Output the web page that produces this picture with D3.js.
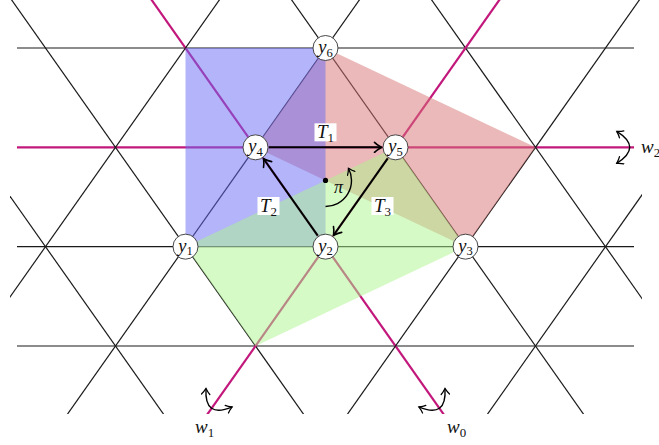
<!DOCTYPE html>
<html lang="en">
<head>
<meta charset="UTF-8">
<title>Alcove walk</title>
<style>
    body { margin: 0; background: #fff; }
    svg { display: block; }
    text { font-family: "Liberation Serif", "DejaVu Serif", serif; fill: #111; }
</style>
<script src="https://d3js.org/d3.v7.min.js"></script>
</head>
<body>
<div id="chart"></div>
<script>
    // lattice coordinates: u = half-edge steps, v = rows (top row is 0)
    const rows = [0, 1, 2, 3];
    const descLines = [-2, 0, 2, 4, 6];   // u - v = c
    const ascLines = [2, 4, 6, 8, 10];    // u + v = s
    const mirrorRow = [1];
    const mirrorDesc = [2];
    const mirrorAsc = [6];

    const vertexNames = ["1", "2", "3", "4", "5", "6"];
    const vertexU = [2, 4, 6, 3, 5, 4];
    const vertexV = [2, 2, 2, 1, 1, 0];

    const piPoint = [4, 4 / 3];
    const polyRed = [[3, 1], [4, 0], [7, 1], [6, 2], [4, 4 / 3]];
    const polyBlue = [[2, 0], [4, 0], [4, 2], [2, 2]];
    const polyGreen = [[2, 2], [4, 4 / 3], [5, 1], [6, 2], [3, 3]];

    // translations: from vertex, to vertex, subscript
    const moves = [[3, 4, "1"], [1, 3, "2"], [4, 1, "3"]];

    // reflections: subscript, point on mirror, outward direction
    const reflections = [
        { sub: "0", at: [5.52, 3.52], dir: [1, 1] },
        { sub: "1", at: [2.48, 3.52], dir: [-1, 1] },
        { sub: "2", at: [8.16, 1], dir: [1, 0] }
    ];

    const width = 659, height = 445;
    const x = d3.scaleLinear().domain([0, 8]).range([45.5, 605.5]);
    const y = d3.scaleLinear().domain([0, 3]).range([48, 346]);
    const pt = p => [x(p[0]), y(p[1])];

    const svg = d3.select("#chart").append("svg")
        .attr("width", width).attr("height", height);

    const defs = svg.append("defs");
    defs.append("clipPath").attr("id", "clip")
        .append("rect").attr("x", 10).attr("y", -20).attr("width", 632).attr("height", 434);

    function arrowMarker(id, size, sw) {
        defs.append("marker").attr("id", id)
            .attr("viewBox", "-10 -6 12 12")
            .attr("refX", 0).attr("refY", 0)
            .attr("markerWidth", size).attr("markerHeight", size)
            .attr("markerUnits", "userSpaceOnUse")
            .attr("orient", "auto-start-reverse")
            .append("path")
            .attr("d", "M-7,-5 C-4,-2 -1,-0.6 0,0 C-1,0.6 -4,2 -7,5")
            .attr("fill", "none").attr("stroke", "#000")
            .attr("stroke-width", sw).attr("stroke-linecap", "round");
    }
    arrowMarker("to", 12, 1.6);
    arrowMarker("toSmall", 10, 1.5);

    const magenta = "#c2187c";
    const lineCol = "#1a1a1a";

    // horizontal lines
    svg.append("g").selectAll("line").data(rows).join("line")
        .attr("x1", 17).attr("x2", 634)
        .attr("y1", d => y(d)).attr("y2", d => y(d))
        .attr("stroke", d => mirrorRow.includes(d) ? magenta : lineCol)
        .attr("stroke-width", d => mirrorRow.includes(d) ? 2.2 : 1.2);

    // diagonal lines
    const diag = svg.append("g").attr("clip-path", "url(#clip)");
    diag.selectAll("line.desc").data(descLines).join("line").attr("class", "desc")
        .attr("x1", c => x(c - 1)).attr("y1", y(-1))
        .attr("x2", c => x(c + 4)).attr("y2", y(4))
        .attr("stroke", c => mirrorDesc.includes(c) ? magenta : lineCol)
        .attr("stroke-width", c => mirrorDesc.includes(c) ? 2.2 : 1.2);
    diag.selectAll("line.asc").data(ascLines).join("line").attr("class", "asc")
        .attr("x1", s => x(s + 1)).attr("y1", y(-1))
        .attr("x2", s => x(s - 4)).attr("y2", y(4))
        .attr("stroke", s => mirrorAsc.includes(s) ? magenta : lineCol)
        .attr("stroke-width", s => mirrorAsc.includes(s) ? 2.2 : 1.2);

    // shaded regions
    const polys = [[polyRed, "#d77373"], [polyBlue, "#6969f5"], [polyGreen, "#adf58d"]];
    svg.append("g").selectAll("polygon").data(polys).join("polygon")
        .attr("points", d => d[0].map(p => pt(p).join(",")).join(" "))
        .attr("fill", d => d[1]).attr("fill-opacity", 0.5);

    // subscripted italic label
    function label(g, px, py, main, sub, size, anchor) {
        const t = g.append("text").attr("x", px).attr("y", py)
            .attr("text-anchor", anchor || "middle")
            .style("font-size", size + "px");
        t.append("tspan").style("font-style", "italic").text(main);
        t.append("tspan").attr("dy", size * 0.2).style("font-size", (size * 0.68) + "px").text(sub);
        return t;
    }

    // translation arrows
    const R = 12.5;
    const arrowG = svg.append("g");
    moves.forEach(([a, b, sub]) => {
        const p = pt([vertexU[a], vertexV[a]]), q = pt([vertexU[b], vertexV[b]]);
        const dx = q[0] - p[0], dy = q[1] - p[1], L = Math.hypot(dx, dy);
        const ux = dx / L, uy = dy / L;
        arrowG.append("line")
            .attr("x1", p[0] + ux * (R + 1)).attr("y1", p[1] + uy * (R + 1))
            .attr("x2", q[0] - ux * (R + 1.5)).attr("y2", q[1] - uy * (R + 1.5))
            .attr("stroke", "#000").attr("stroke-width", 2)
            .attr("marker-end", "url(#to)");
    });

    // labels T1, T2, T3 with white boxes
    const tLabelOffsets = { "1": [0, -15], "2": [-22, 9], "3": [22, 9] };
    moves.forEach(([a, b, sub]) => {
        const p = pt([vertexU[a], vertexV[a]]), q = pt([vertexU[b], vertexV[b]]);
        const cx = (p[0] + q[0]) / 2 + tLabelOffsets[sub][0];
        const cy = (p[1] + q[1]) / 2 + tLabelOffsets[sub][1];
        svg.append("rect").attr("x", cx - 11).attr("y", cy - 9).attr("width", 22).attr("height", 18)
            .attr("fill", "#fff");
        label(svg, cx, cy + 6, "T", sub, 19);
    });

    // rotation around pi
    const pc = pt(piPoint);
    const arc = d3.path();
    arc.arc(pc[0], pc[1], 26, Math.PI / 2, -28 * Math.PI / 180, true);
    svg.append("path").attr("d", arc.toString())
        .attr("fill", "none").attr("stroke", "#000").attr("stroke-width", 1.4)
        .attr("marker-end", "url(#toSmall)");
    svg.append("circle").attr("cx", pc[0]).attr("cy", pc[1]).attr("r", 2.6).attr("fill", "#000");
    svg.append("text").attr("x", pc[0] + 13).attr("y", pc[1] + 13)
        .attr("text-anchor", "middle").style("font-size", "18px").style("font-style", "italic").text("π");

    // reflection arrows
    const su = x(1) - x(0), sv = y(1) - y(0);
    reflections.forEach(r => {
        const a = pt(r.at);
        let dx = r.dir[0] * su, dy = r.dir[1] * sv;
        const L = Math.hypot(dx, dy); dx /= L; dy /= L;
        const nx = -dy, ny = dx, h = 16, k = 26;
        svg.append("path")
            .attr("d", `M${a[0] + nx * h},${a[1] + ny * h} Q${a[0] + dx * k},${a[1] + dy * k} ${a[0] - nx * h},${a[1] - ny * h}`)
            .attr("fill", "none").attr("stroke", "#000").attr("stroke-width", 1.4)
            .attr("marker-start", "url(#toSmall)").attr("marker-end", "url(#toSmall)");
    });
    label(svg, 195, 433, "w", "1", 19, "start");
    label(svg, 447, 433, "w", "0", 19, "start");
    label(svg, 641, 153, "w", "2", 19, "start");

    // vertices
    const nodes = svg.append("g").selectAll("g").data(vertexNames).join("g")
        .attr("transform", (d, i) => `translate(${x(vertexU[i])},${y(vertexV[i])})`);
    nodes.append("circle").attr("r", R).attr("fill", "#fff").attr("stroke", "#333").attr("stroke-width", 0.9);
    nodes.each(function (d) { label(d3.select(this), 0, 5, "y", d, 18.5); });
</script>
</body>
</html>
